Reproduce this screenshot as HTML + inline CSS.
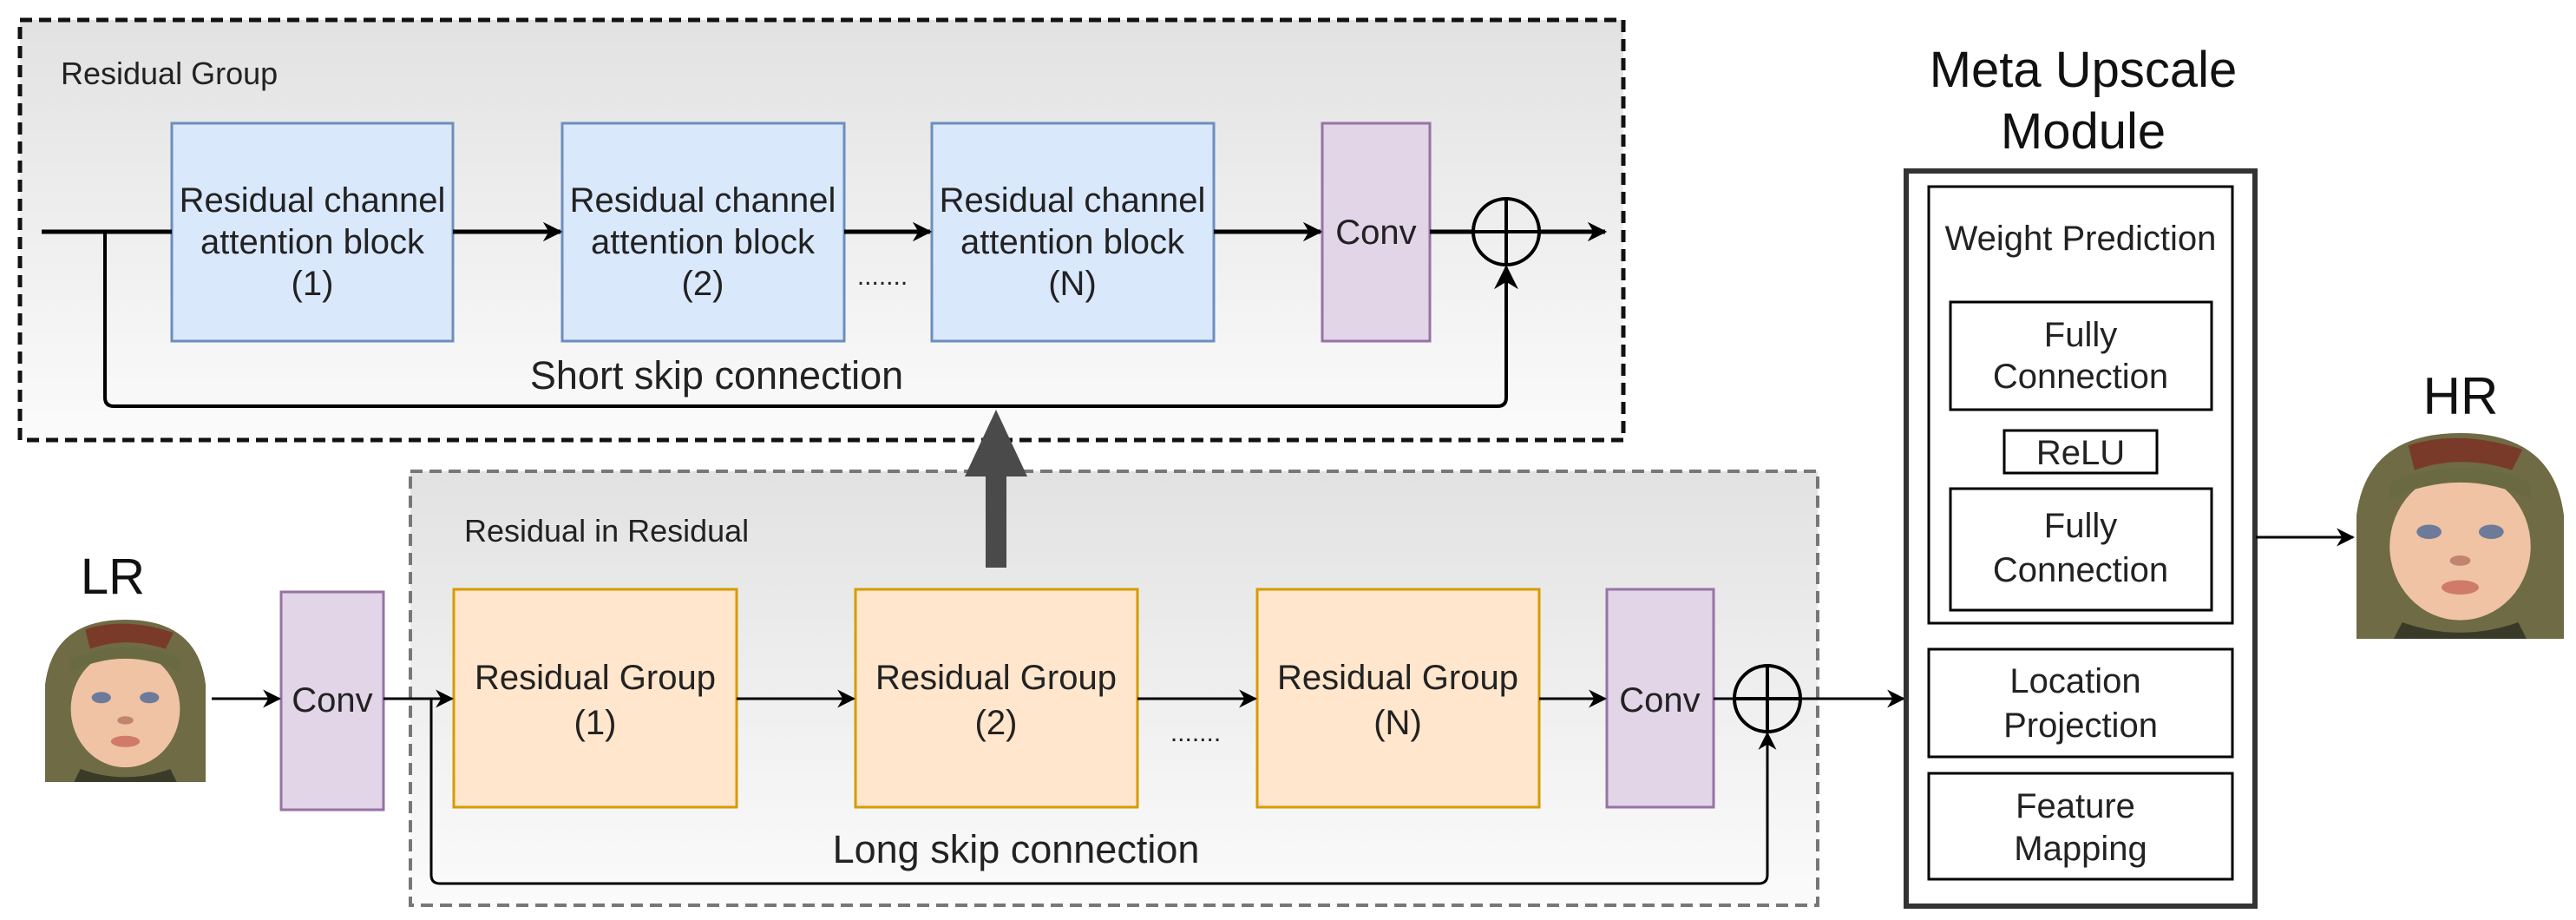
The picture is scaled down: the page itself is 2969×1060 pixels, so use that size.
<!DOCTYPE html>
<html><head><meta charset="utf-8"><style>
html,body{margin:0;padding:0;background:#fff;}
svg{display:block;font-family:"Liberation Sans",Arial,sans-serif;}
</style></head><body>
<svg width="2969" height="1060" viewBox="0 0 2969 1060" xmlns="http://www.w3.org/2000/svg">
<defs>
<linearGradient id="g1" x1="0" y1="0" x2="0" y2="1"><stop offset="0" stop-color="#e2e2e2"/><stop offset="1" stop-color="#fbfbfb"/></linearGradient>
<marker id="a" viewBox="0 0 10 10" refX="9" refY="5" markerWidth="4.5" markerHeight="4.5" orient="auto" markerUnits="strokeWidth"><path d="M0,0 L10,5 L0,10 L3,5 z" fill="#000"/></marker>
<marker id="b" viewBox="0 0 10 10" refX="9" refY="5" markerWidth="7" markerHeight="7" orient="auto" markerUnits="strokeWidth"><path d="M0,0 L10,5 L0,10 L3,5 z" fill="#000"/></marker>
<g id="face">
<rect x="0" y="0" width="100" height="100" fill="#fff"/>
<path d="M0,100 L0,40 Q5,0 50,0 Q95,0 100,40 L100,100 Z" fill="#6e6b45"/>
<path d="M25,6 Q50,-2 80,8 L75,18 Q50,10 28,18 Z" fill="#7a3a2a"/>
<ellipse cx="50" cy="55" rx="34" ry="36" fill="#efc3a3"/>
<path d="M16,32 Q50,16 84,32 L84,24 Q50,10 16,24 Z" fill="#6a6a42"/>
<ellipse cx="35" cy="48" rx="6" ry="3.5" fill="#6e7a9a"/>
<ellipse cx="65" cy="48" rx="6" ry="3.5" fill="#6e7a9a"/>
<ellipse cx="50" cy="62" rx="5" ry="2.5" fill="#c08570"/>
<ellipse cx="50" cy="75" rx="9" ry="3.5" fill="#d07a6a"/>
<path d="M22,92 Q50,102 78,92 L82,100 L18,100 Z" fill="#3a3a28"/>
</g>
</defs>

<rect x="23" y="23" width="1848" height="484" fill="url(#g1)" stroke="#111" stroke-width="5" stroke-dasharray="14,8"/>
<text x="70" y="97" font-size="36" fill="#222">Residual Group</text>

<g stroke="#6c8ebf" stroke-width="3" fill="#dae8fc">
<rect x="198" y="142" width="324" height="251"/>
<rect x="648" y="142" width="325" height="251"/>
<rect x="1074" y="142" width="325" height="251"/>
</g>
<rect x="1524" y="142" width="124" height="251" fill="#e1d5e7" stroke="#9673a6" stroke-width="3"/>
<g font-size="40" fill="#222" text-anchor="middle">
<text x="360" y="244">Residual channel</text><text x="360" y="292">attention block</text><text x="360" y="340">(1)</text>
<text x="810" y="244">Residual channel</text><text x="810" y="292">attention block</text><text x="810" y="340">(2)</text>
<text x="1236" y="244">Residual channel</text><text x="1236" y="292">attention block</text><text x="1236" y="340">(N)</text>
<text x="1586" y="281">Conv</text>
<text x="826" y="448" font-size="45">Short skip connection</text>
</g>
<text x="1017" y="328" font-size="30" text-anchor="middle" fill="#222">.......</text>
<g stroke="#000" stroke-width="5" fill="none">
<line x1="48" y1="267" x2="198" y2="267"/>
<line x1="522" y1="267" x2="646" y2="267" marker-end="url(#a)"/>
<line x1="973" y1="267" x2="1072" y2="267" marker-end="url(#a)"/>
<line x1="1399" y1="267" x2="1522" y2="267" marker-end="url(#a)"/>
<line x1="1648" y1="267" x2="1697" y2="267"/>
<line x1="1775" y1="267" x2="1850" y2="267" marker-end="url(#a)"/>
</g>
<path d="M121,267 L121,458 Q121,468 131,468 L1726,468 Q1736,468 1736,458 L1736,308" stroke="#000" stroke-width="4" fill="none" marker-end="url(#b)"/>
<circle cx="1736" cy="267" r="38" fill="none" stroke="#000" stroke-width="4"/>
<line x1="1736" y1="229" x2="1736" y2="305" stroke="#000" stroke-width="4"/>
<line x1="1698" y1="267" x2="1774" y2="267" stroke="#000" stroke-width="4"/>

<rect x="473" y="543" width="1622" height="500" fill="url(#g1)" stroke="#777" stroke-width="4" stroke-dasharray="14,8"/>
<text x="535" y="624" font-size="36" fill="#222">Residual in Residual</text>

<rect x="1136" y="540" width="24" height="114" fill="#4a4a4a"/>
<polygon points="1148,472 1184,549 1112,549" fill="#4a4a4a"/>

<text x="130" y="684" font-size="58" text-anchor="middle" fill="#111">LR</text>
<svg x="52" y="714" width="185" height="187" viewBox="0 0 100 100" preserveAspectRatio="none"><use href="#face"/></svg>

<rect x="324" y="682" width="118" height="251" fill="#e1d5e7" stroke="#9673a6" stroke-width="3"/>
<g stroke="#d79b00" stroke-width="3" fill="#ffe6cc">
<rect x="523" y="679" width="326" height="251"/>
<rect x="986" y="679" width="325" height="251"/>
<rect x="1449" y="679" width="325" height="251"/>
</g>
<rect x="1852" y="679" width="123" height="251" fill="#e1d5e7" stroke="#9673a6" stroke-width="3"/>
<g font-size="40" fill="#222" text-anchor="middle">
<text x="383" y="820">Conv</text>
<text x="686" y="794">Residual Group</text><text x="686" y="846">(1)</text>
<text x="1148" y="794">Residual Group</text><text x="1148" y="846">(2)</text>
<text x="1611" y="794">Residual Group</text><text x="1611" y="846">(N)</text>
<text x="1913" y="820">Conv</text>
<text x="1171" y="994" font-size="45">Long skip connection</text>
</g>
<text x="1378" y="854" font-size="30" text-anchor="middle" fill="#222">.......</text>
<g stroke="#000" stroke-width="3" fill="none">
<line x1="244" y1="805" x2="322" y2="805" marker-end="url(#b)"/>
<line x1="442" y1="805" x2="521" y2="805" marker-end="url(#b)"/>
<line x1="849" y1="805" x2="984" y2="805" marker-end="url(#b)"/>
<line x1="1311" y1="805" x2="1447" y2="805" marker-end="url(#b)"/>
<line x1="1774" y1="805" x2="1850" y2="805" marker-end="url(#b)"/>
<line x1="1975" y1="805" x2="1999" y2="805"/>
<line x1="2075" y1="805" x2="2194" y2="805" marker-end="url(#b)"/>
<path d="M497,805 L497,1008 Q497,1018 507,1018 L2027,1018 Q2037,1018 2037,1008 L2037,845" marker-end="url(#b)"/>
</g>
<circle cx="2037" cy="805" r="38" fill="none" stroke="#000" stroke-width="4"/>
<line x1="2037" y1="767" x2="2037" y2="843" stroke="#000" stroke-width="4"/>
<line x1="1999" y1="805" x2="2075" y2="805" stroke="#000" stroke-width="4"/>

<g font-size="58" fill="#111" text-anchor="middle">
<text x="2401" y="100">Meta Upscale</text>
<text x="2401" y="171">Module</text>
</g>
<rect x="2197" y="197" width="402" height="847" fill="#fff" stroke="#333" stroke-width="6"/>
<g fill="none" stroke="#000" stroke-width="3">
<rect x="2223" y="215" width="350" height="503"/>
<rect x="2248" y="348" width="301" height="124"/>
<rect x="2310" y="496" width="176" height="49"/>
<rect x="2248" y="563" width="301" height="140"/>
<rect x="2223" y="748" width="350" height="124"/>
<rect x="2223" y="891" width="350" height="122"/>
</g>
<g font-size="40" fill="#222" text-anchor="middle">
<text x="2398" y="288">Weight Prediction</text>
<text x="2398" y="399">Fully</text><text x="2398" y="447">Connection</text>
<text x="2398" y="535">ReLU</text>
<text x="2398" y="619">Fully</text><text x="2398" y="670">Connection</text>
<text x="2392" y="798">Location</text><text x="2398" y="849">Projection</text>
<text x="2392" y="942">Feature</text><text x="2398" y="991">Mapping</text>
</g>
<line x1="2600" y1="619" x2="2712" y2="619" stroke="#000" stroke-width="3" marker-end="url(#b)"/>
<text x="2836" y="477" font-size="60" text-anchor="middle" fill="#111">HR</text>
<svg x="2716" y="499" width="239" height="237" viewBox="0 0 100 100" preserveAspectRatio="none"><use href="#face"/></svg>
</svg>
</body></html>
